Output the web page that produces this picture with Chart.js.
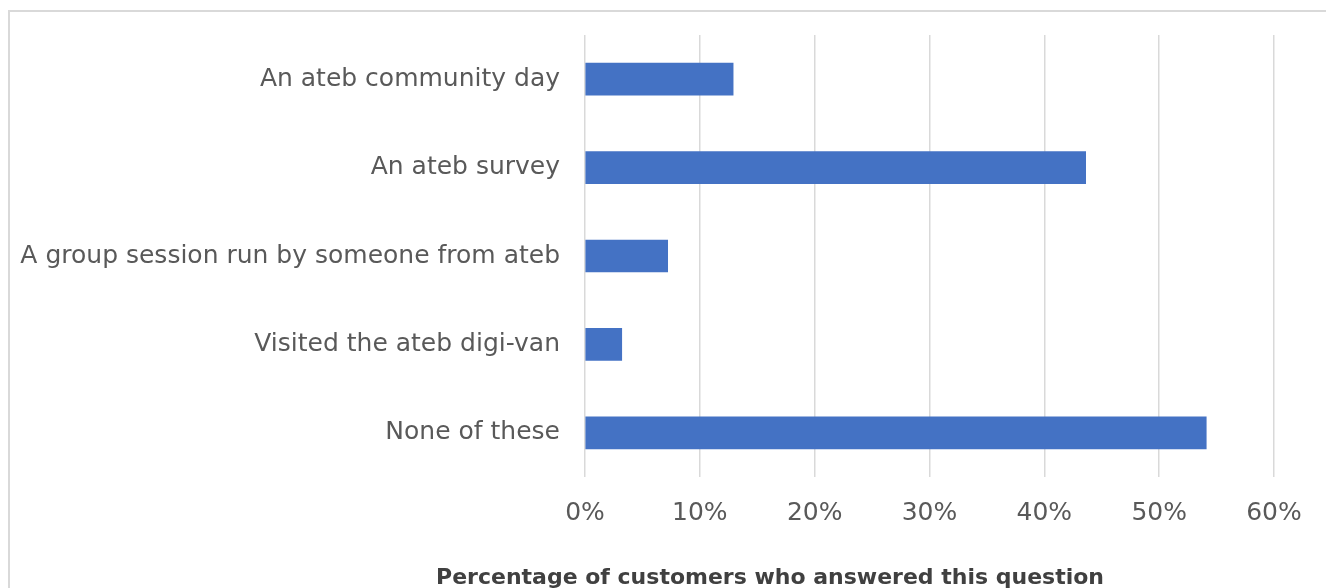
<!DOCTYPE html>
<html>
<head>
<meta charset="utf-8">
<script src="https://cdn.jsdelivr.net/npm/chart.js@4/dist/chart.umd.min.js"></script>
<style>
  html, body { margin: 0; padding: 0; background: #fff; overflow: hidden; }
  #frame {
    position: absolute; left: 8px; top: 10px; width: 1400px; height: 700px;
    border-left: 2px solid #d9d9d9; border-top: 2px solid #d9d9d9;
  }
  #wrap { position: absolute; left: 0; top: 0; width: 1326px; height: 600px; }
</style>
</head>
<body>
<div id="frame"></div>
<div id="wrap"><canvas id="barChart" width="1326" height="600"></canvas></div>
<script>
/* ============================
   CHART DATA
   ============================ */

const categories = [
  "An ateb community day",
  "An ateb survey",
  "A group session run by someone from ateb",
  "Visited the ateb digi-van",
  "None of these"
];

const percentValues = [12.9, 43.6, 7.2, 3.2, 54.1];

const tickValues = [0, 10, 20, 30, 40, 50, 60];

const axisTitle = "Percentage of customers who answered this question";

/* ============================
   CHART SETUP
   ============================ */

const FONT = "'DejaVu Sans', sans-serif";

// axis title sits left of the plot centre in the original, so draw it here
const bottomTitle = {
  id: "bottomTitle",
  afterDraw(chart) {
    const c = chart.ctx;
    c.save();
    c.font = "bold 22px " + FONT;
    c.fillStyle = "#404040";
    c.textAlign = "center";
    c.textBaseline = "middle";
    c.fillText(axisTitle, 770, 578);
    c.restore();
  }
};

const ctx = document.getElementById("barChart").getContext("2d");

new Chart(ctx, {
  type: "bar",
  data: {
    labels: categories,
    datasets: [{
      data: percentValues,
      backgroundColor: "#4472c4",
      borderWidth: 0,
      barThickness: 32
    }]
  },
  options: {
    indexAxis: "y",
    responsive: false,
    animation: false,
    layout: { padding: { left: 0, right: 52, top: 35, bottom: 0 } },
    plugins: {
      legend: { display: false },
      tooltip: { enabled: false }
    },
    scales: {
      x: {
        min: tickValues[0],
        max: tickValues[tickValues.length - 1],
        afterBuildTicks: (scale) => {
          scale.ticks = tickValues.map(v => ({ value: v }));
        },
        afterFit: (scale) => {
          scale.height = 123;
          scale.paddingLeft = 0;
          scale.paddingRight = 0;
        },
        grid: { color: "#d9d9d9", lineWidth: 1.5, drawTicks: false },
        border: { display: false },
        ticks: {
          padding: 21,
          color: "#595959",
          font: { family: FONT, size: 25 },
          callback: (v) => v + "%"
        }
      },
      y: {
        afterFit: (scale) => {
          scale.width = 585;
          scale.paddingTop = 0;
          scale.paddingBottom = 0;
        },
        grid: { display: false, drawTicks: false },
        border: { display: false },
        ticks: {
          padding: 25,
          color: "#595959",
          font: { family: FONT, size: 25 }
        }
      }
    }
  },
  plugins: [bottomTitle]
});
</script>
</body>
</html>
